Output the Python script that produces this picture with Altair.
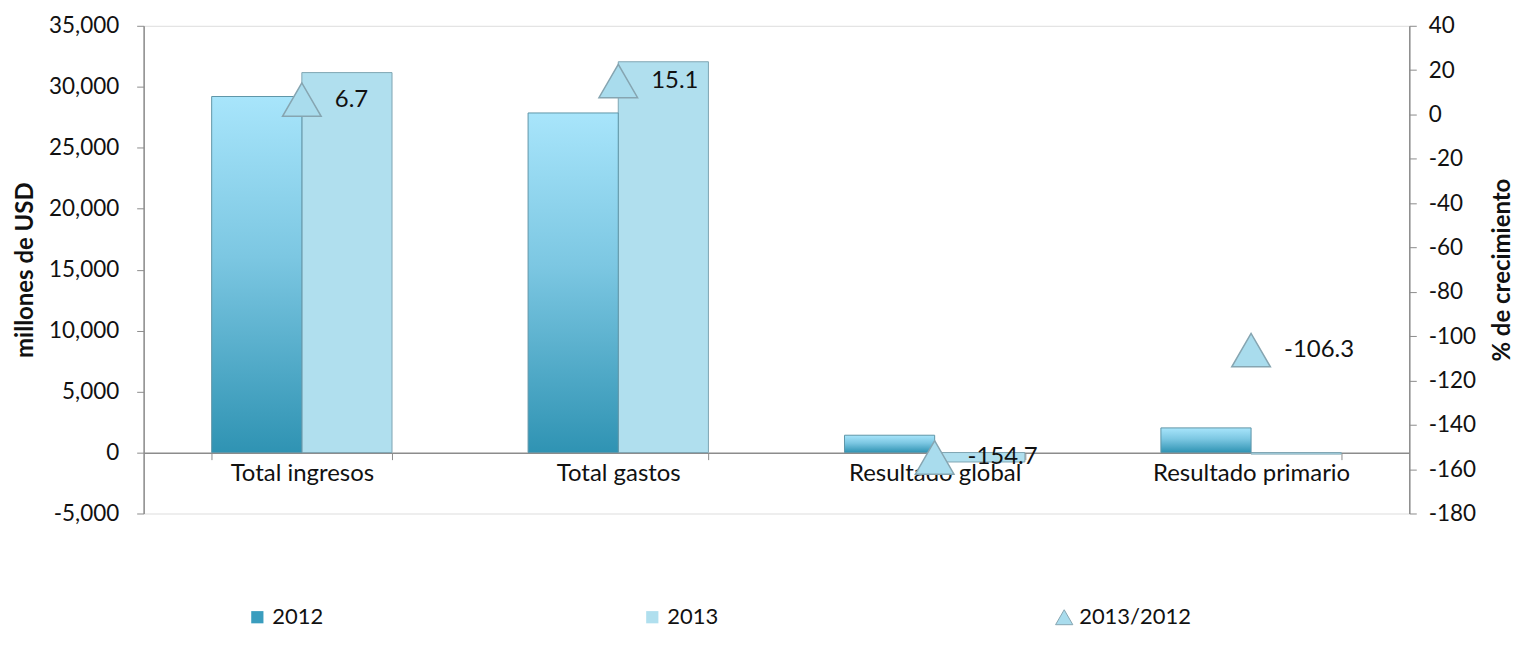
import altair as alt
import pandas as pd

categories = ["Total ingresos", "Total gastos", "Resultado global", "Resultado primario"]
series = ["2012", "2013"]
values_2012 = [29200, 27850, 1420, 2020]
values_2013 = [31160, 32050, -775, -127]
growth = [6.7, 15.1, -154.7, -106.3]
growth_labels = ["6.7", "15.1", "-154.7", "-106.3"]
growth_series = "2013/2012"

left_ticks = list(range(-5000, 35001, 5000))
right_ticks = list(range(-180, 41, 20))

bars_df = pd.DataFrame(
    [{"cat": c, "serie": "2012", "val": v} for c, v in zip(categories, values_2012)]
    + [{"cat": c, "serie": "2013", "val": v} for c, v in zip(categories, values_2013)]
)
growth_df = pd.DataFrame({"cat": categories, "g": growth, "lab": growth_labels,
                          "s": [growth_series] * len(categories)})

FONT = "Lato"
GREY = "#8c8c8c"
MINUS = "\u2212"

x_enc = alt.X(
    "cat:N", sort=categories,
    scale=alt.Scale(paddingInner=0.43, paddingOuter=0.215),
    axis=alt.Axis(title=None, labelAngle=0, offset=-61, tickBand="extent", tickSize=7,
                  tickColor=GREY, domainColor=GREY, labelFontSize=24, labelFont=FONT,
                  labelColor="#111111", labelPadding=2, domainWidth=1.5, labelLimit=0),
)
xoff = alt.XOffset("serie:N", scale=alt.Scale(domain=series, paddingInner=0, paddingOuter=0))

y_left = alt.Y(
    "val:Q",
    scale=alt.Scale(domain=[-5000, 35000], nice=False, zero=False),
    axis=alt.Axis(values=left_ticks, labelExpr=f"replace(format(datum.value, ','), '{MINUS}', '-')",
                  grid=False, tickSize=7, labelPadding=18, tickColor=GREY, domainColor=GREY,
                  domainWidth=1.5, labelFontSize=22.5, labelFont=FONT, labelColor="#111111",
                  title="millones de USD", titleFont=FONT, titleFontSize=24, titleFontWeight="bold",
                  titleAngle=270, titleX=-118, titleY=244.5, titleAlign="center",
                  titleBaseline="middle", titleColor="#111111"),
)

grad = alt.LinearGradient(
    gradient="linear",
    stops=[alt.GradientStop(color="#a8e5fb", offset=0),
           alt.GradientStop(color="#7cc7e2", offset=0.45),
           alt.GradientStop(color="#2f93b3", offset=1)],
    x1=0, x2=0, y1=0, y2=1,
)

bars_2013 = alt.Chart(bars_df).transform_filter(alt.datum.serie == "2013").mark_bar(
    stroke="#7fa6b3", strokeWidth=1
).encode(
    x=x_enc, xOffset=xoff, y=y_left,
    color=alt.Color("serie:N", scale=alt.Scale(domain=series, range=["#3a9dbe", "#b0dfee"]),
                    legend=alt.Legend(title=None, orient="none", legendX=103, legendY=582,
                                      direction="horizontal", columnPadding=318, symbolType="square",
                                      symbolSize=150, symbolStrokeWidth=0, labelFontSize=22,
                                      labelFont=FONT, labelColor="#111111", padding=0, labelOffset=4)),
)

bars_2012 = alt.Chart(bars_df).transform_filter(alt.datum.serie == "2012").mark_bar(
    stroke="#5f96a8", strokeWidth=1
).encode(
    x=x_enc, xOffset=xoff, y=y_left, fill=alt.value(grad),
)

y_right = alt.Y(
    "g:Q",
    scale=alt.Scale(domain=[-180, 40], nice=False, zero=False),
    axis=alt.Axis(orient="right", values=right_ticks,
                  labelExpr=f"replace(format(datum.value, 'd'), '{MINUS}', '-')",
                  grid=False, tickSize=7, labelPadding=12, tickColor=GREY, domainColor=GREY,
                  domainWidth=1.5, labelFontSize=22.5, labelFont=FONT, labelColor="#111111",
                  title="% de crecimiento", titleFont=FONT, titleFontSize=24, titleFontWeight="bold",
                  titleAngle=270, titleX=93, titleY=244.5, titleAlign="center",
                  titleBaseline="middle", titleColor="#111111"),
)

tri = alt.Chart(growth_df).mark_point(
    shape="triangle-up", filled=True, size=1500, stroke="#86a5b1", strokeWidth=1.5, opacity=1
).encode(
    x=alt.X("cat:N", sort=categories), y=y_right,
    color=alt.Color("s:N", scale=alt.Scale(domain=[growth_series], range=["#a9dced"]),
                    legend=alt.Legend(title=None, orient="none", legendX=912, legendY=582,
                                      symbolType="triangle-up", symbolSize=300,
                                      symbolStrokeColor="#86a5b1", symbolStrokeWidth=1,
                                      labelFontSize=22, labelFont=FONT, labelColor="#111111",
                                      padding=0, labelOffset=4)),
)

txt = alt.Chart(growth_df).mark_text(
    align="left", baseline="middle", dx=33, fontSize=24, font=FONT, color="#111111"
).encode(
    x=alt.X("cat:N", sort=categories), y=alt.Y("g:Q"), text="lab:N",
)

left_layer = alt.layer(bars_2013, bars_2012)
right_layer = alt.layer(tri, txt)

chart = alt.layer(left_layer, right_layer).resolve_scale(
    y="independent", color="independent"
).properties(
    width=1269, height=489,
    autosize=alt.AutoSizeParams(type="none"),
    padding={"left": 136, "top": 17, "right": 108, "bottom": 125},
).configure_view(stroke=None).configure(font=FONT, background="white")

chart.save("out.html", embed_options={"renderer": "svg", "actions": False})
